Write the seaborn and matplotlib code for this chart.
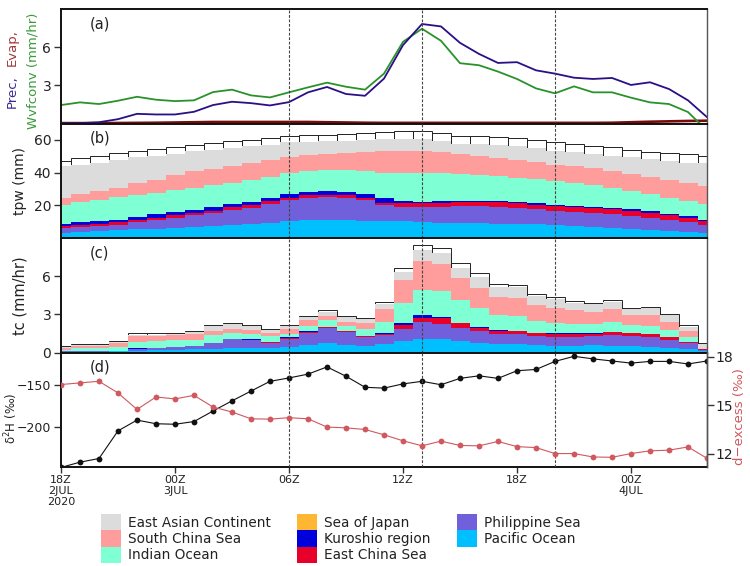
import numpy as np
import pandas as pd
import seaborn as sns
import matplotlib
matplotlib.use("Agg")
import matplotlib.pyplot as plt
from matplotlib.patches import Patch

sns.set_style("ticks")
plt.rcParams['font.family'] = ['DejaVu Sans']
plt.rcParams['mathtext.default'] = 'regular'

hours = np.arange(35)

# panel (a), mm/hr
prec = [0, .03, .1, .34, .76, .71, .71, .92, 1.45, 1.71, 1.6, 1.42, 1.68, 2.45, 2.87, 2.32, 2.18,
        3.53, 6.16, 7.82, 7.63, 6.34, 5.47, 4.76, 4.82, 4.18, 3.92, 3.6, 3.5, 3.58, 3.03, 3.24, 2.71, 1.82, .5]
wvfconv = [1.45, 1.66, 1.53, 1.79, 2.1, 1.87, 1.76, 1.82, 2.47, 2.66, 2.21, 2.05, 2.45, 2.84, 3.21, 2.89, 2.66,
           3.92, 6.42, 7.45, 6.5, 4.74, 4.58, 4.08, 3.5, 2.76, 2.37, 2.92, 2.45, 2.45, 2.03, 1.66, 1.53, .9, -.55]
evap = [.03, .03, .03, .04, .05, .06, .08, .1, .12, .12, .12, .12, .12, .12, .1, .08, .06,
        .05, .05, .05, .05, .05, .05, .05, .05, .05, .05, .05, .05, .06, .1, .14, .17, .2, .22]

# panel (b), upper edge of each layer, mm
tpw_pacific = [3.3, 3.7, 4.1, 4.7, 5.3, 5.7, 6.3, 6.95, 7.6, 8.2, 8.8, 9.4, 10.2, 10.8, 11, 11, 10.6,
               10.4, 10.2, 9.6, 9.4, 9.2, 9, 8.8, 8.6, 8.4, 8, 7.6, 7, 6.3, 5.7, 5.1, 4.5, 3.9, 3.3]
tpw_philippine = [6, 6.6, 7.4, 8.2, 9.6, 10.9, 12.4, 13.8, 15.2, 17, 18.6, 20.8, 23, 24.6, 25, 24.6, 23,
                  20.4, 18.8, 18.8, 19.2, 19.4, 19.6, 19, 18.2, 17.8, 16.8, 16, 15.5, 14.5, 13.7, 12.1, 11, 10, 8]
tpw_ecs = [7.2, 7.9, 8.7, 9.5, 11, 12.4, 13.9, 15.3, 16.8, 18.7, 20.3, 22.5, 24.4, 26, 26.4, 26, 24.3,
           21.7, 21.5, 21.3, 21.5, 21.9, 22.1, 21.9, 21.1, 20.4, 19.8, 19, 18.4, 17.8, 16.8, 15.5, 13.9, 12.5, 10.2]
tpw_kuroshio = [8.8, 9.6, 10.4, 11.2, 13, 14.5, 16, 17.4, 18.8, 20.9, 22.3, 24.5, 26.6, 28.2, 28.6, 28.2, 26.6,
                24.3, 22.5, 22.3, 22.5, 22.7, 22.9, 22.9, 22.1, 21.3, 20.4, 19.6, 19, 18.6, 17.6, 16.6, 14.9, 13.5, 11.2]
tpw_indian = [20.2, 21.9, 23.3, 24.9, 26.2, 27.8, 29.2, 30.5, 32.1, 33.7, 35.4, 37.2, 39.7, 40.9, 41.3, 41.3, 40.9,
              39.5, 39.5, 39.7, 39.5, 39.1, 38.7, 37.6, 36.6, 35.8, 34.6, 33.9, 32.5, 30.7, 28.8, 26.8, 24.5, 22.7, 20.9]
tpw_scs = [24.7, 26.6, 28.6, 30.5, 33.7, 35.6, 38.7, 40.7, 42.3, 44.2, 45.6, 47.4, 49.5, 50.7, 51.3, 51.7, 52.4,
           53.2, 53.4, 53.4, 52.8, 51.1, 49.9, 49.1, 47.6, 46.4, 44.6, 43.8, 42.5, 40.7, 39.3, 37.2, 35.2, 33.5, 31.9]
tpw_eac = [43.8, 44.8, 45.8, 47.9, 49.3, 50.1, 51.5, 53, 54, 55.2, 56, 56.9, 58.5, 58.9, 59.3, 59.5, 59.7,
           60.5, 60.7, 60.5, 59.5, 57.7, 57.5, 56.9, 56, 55.2, 53.4, 52.8, 51.5, 50.3, 49.5, 48.3, 47, 45.8, 46]
tpw_total = [47, 48.9, 50.3, 51.9, 53.2, 54.4, 55.4, 56.9, 58.1, 59.3, 60.1, 61.1, 62.2, 62.8, 63.2, 63.8, 64.2,
             65, 65.4, 65.2, 64.2, 62.6, 62.2, 61.8, 61.1, 59.9, 58.7, 57.3, 56.4, 55.4, 54, 52.6, 51.9, 51.1, 50.1]

# panel (c), upper edge of each layer, mm/hr
tc_pacific = [.05, .06, .07, .09, .15, .18, .2, .24, .3, .35, .35, .32, .42, .6, .72, .6, .5,
              .63, .89, 1.1, 1.08, .92, .76, .68, .63, .58, .55, .55, .58, .55, .53, .47, .37, .26, .08]
tc_philippine = [.08, .08, .08, .12, .3, .33, .4, .5, .72, 1.03, .95, .78, 1.1, 1.55, 1.9, 1.6, 1.2,
                 1.34, 1.87, 2.39, 2.26, 1.95, 1.66, 1.45, 1.42, 1.26, 1.24, 1.24, 1.26, 1.34, 1.26, 1.18, 1, .71, .18]
tc_ecs = [.09, .09, .09, .12, .31, .34, .42, .52, .74, 1.06, .99, .8, 1.14, 1.62, 1.99, 1.67, 1.28,
          1.42, 2.18, 2.74, 2.68, 2.29, 1.92, 1.71, 1.68, 1.5, 1.47, 1.47, 1.47, 1.6, 1.5, 1.42, 1.21, .82, .24]
tc_kuroshio = [.1, .1, .1, .13, .34, .37, .45, .55, .76, 1.1, 1.03, .84, 1.18, 1.66, 2.03, 1.71, 1.32,
               1.55, 2.32, 2.92, 2.79, 2.34, 1.97, 1.74, 1.71, 1.55, 1.5, 1.5, 1.5, 1.63, 1.53, 1.45, 1.24, .84, .26]
tc_indian = [.21, .32, .32, .42, .84, .87, .95, 1, 1.34, 1.55, 1.45, 1.26, 1.47, 2.08, 2.53, 2.08, 1.82,
             2.39, 3.87, 4.92, 4.84, 4.13, 3.47, 2.92, 2.87, 2.47, 2.34, 2.26, 2.26, 2.39, 2.16, 2.08, 1.74, 1.24, .29]
tc_scs = [.34, .5, .5, .71, 1.29, 1.29, 1.34, 1.42, 1.66, 1.84, 1.74, 1.53, 1.82, 2.53, 2.89, 2.39, 2.29,
          3.39, 5.68, 7.16, 6.95, 5.82, 5.05, 4.39, 4.32, 3.74, 3.53, 3.32, 3.21, 3.39, 2.92, 2.92, 2.42, 1.66, .3]
tc_eac = [.42, .58, .58, .84, 1.39, 1.39, 1.42, 1.58, 2.1, 2.26, 2.08, 1.76, 2.05, 2.82, 3.21, 2.82, 2.63,
          3.84, 6.34, 8.05, 7.84, 6.63, 5.9, 5.18, 5.16, 4.45, 4.21, 3.87, 3.84, 3.97, 3.39, 3.47, 2.92, 1.97, .68]
tc_total = [.53, .68, .68, .9, 1.5, 1.5, 1.53, 1.68, 2.18, 2.34, 2.18, 1.87, 2.18, 2.89, 3.34, 2.89, 2.74,
            3.97, 6.68, 8.45, 8.24, 7, 6.21, 5.42, 5.32, 4.63, 4.39, 4.05, 3.92, 4.11, 3.53, 3.61, 3.05, 2.13, .71]

# panel (d)
d2h = [-247.5, -241.3, -237, -204.4, -191.7, -196, -196.6, -193.4, -181, -169, -157.5, -146, -142, -137.5, -129, -140,
       -153, -154, -149, -146, -150, -142.5, -139.5, -142.5, -133.5, -132, -122.5, -116.5, -119.5, -122, -124.5,
       -122.5, -122.5, -125.5, -122]
dexcess = [16.29, 16.39, 16.49, 15.77, 14.75, 15.52, 15.4, 15.62, 14.9, 14.59, 14.17, 14.15, 14.24, 14.17, 13.66, 13.61,
           13.51, 13.18, 12.81, 12.5, 12.79, 12.52, 12.5, 12.77, 12.45, 12.39, 12.02, 12.02, 11.81, 11.79, 12.02,
           12.19, 12.23, 12.43, 11.73]

event_hours = [12, 19, 26]
time_ticks = [0, 6, 12, 18, 24, 30]
time_labels = ['18Z\n2JUL\n2020', '00Z\n3JUL', '06Z', '12Z', '18Z', '00Z\n4JUL']

source_colors = {
    'East Asian Continent': '#DCDCDC',
    'South China Sea': '#FF9C9C',
    'Indian Ocean': '#7FFFD4',
    'Sea of Japan': '#FFB733',
    'Kuroshio region': '#0000DD',
    'East China Sea': '#E8002A',
    'Philippine Sea': '#7060DC',
    'Pacific Ocean': '#00BFFF',
}
stack_names = ['Pacific Ocean', 'Philippine Sea', 'East China Sea', 'Kuroshio region',
               'Indian Ocean', 'South China Sea', 'East Asian Continent']


def draw_stack(ax, tops, total):
    # outline of the total goes first, the layers cover its lower part
    sns.histplot(x=hours, weights=total, discrete=True, element='bars', fill=False,
                 color='#222222', linewidth=0.7, ax=ax)
    thick = np.diff(np.array(tops), axis=0, prepend=0)
    frames = [pd.DataFrame({'hour': hours, 'value': t, 'source': n}) for t, n in zip(thick, stack_names)]
    df = pd.concat(frames)
    sns.histplot(df, x='hour', weights='value', hue='source', hue_order=stack_names[::-1],
                 palette=source_colors, multiple='stack', discrete=True, element='step',
                 alpha=1, linewidth=0, legend=False, ax=ax)


fig, axes = plt.subplots(4, 1, figsize=(7.5, 5.66), dpi=100, sharex=True)
fig.subplots_adjust(left=61 / 750, right=707 / 750, top=1 - 9 / 566, bottom=1 - 467 / 566, hspace=0)
ax_a, ax_b, ax_c, ax_d = axes

sns.lineplot(x=hours, y=evap, color='#7A0A0A', linewidth=1.9, errorbar=None, ax=ax_a)
sns.lineplot(x=hours, y=wvfconv, color='#2A922A', linewidth=1.3, errorbar=None, ax=ax_a)
sns.lineplot(x=hours, y=prec, color='#2A0F85', linewidth=1.3, errorbar=None, ax=ax_a)
ax_a.set_ylim(0, 9)
ax_a.set_yticks([3, 6])

draw_stack(ax_b, [tpw_pacific, tpw_philippine, tpw_ecs, tpw_kuroshio, tpw_indian, tpw_scs, tpw_eac], tpw_total)
ax_b.set_ylim(0, 70)
ax_b.set_yticks([20, 40, 60])

draw_stack(ax_c, [tc_pacific, tc_philippine, tc_ecs, tc_kuroshio, tc_indian, tc_scs, tc_eac], tc_total)
ax_c.set_ylim(0, 9)
ax_c.set_yticks([0, 3, 6])

sns.lineplot(x=hours, y=d2h, color='#111111', linewidth=0.8, marker='o', markersize=4.2,
             markeredgewidth=0, errorbar=None, ax=ax_d)
ax_d.set_ylim(-247, -112)
ax_d.set_yticks([-150, -200])
ax_d.set_yticklabels(['\u2212150', '\u2212200'])

ax_r = ax_d.twinx()
sns.lineplot(x=hours, y=dexcess, color='#D0585F', linewidth=0.8, marker='o', markersize=4.2,
             markeredgewidth=0, errorbar=None, ax=ax_r)
ax_r.set_ylim(11.19, 18.27)
ax_r.set_yticks([12, 15, 18])
ax_r.set_ylabel('')
ax_r.tick_params(axis='y', length=5, width=1, labelsize=10, pad=1, color='#333333', labelcolor='#222222')
for side in ['top', 'left', 'bottom']:
    ax_r.spines[side].set_visible(False)
ax_r.spines['right'].set_linewidth(1.0)
ax_r.spines['right'].set_color('#555555')

for ax, tag in zip(axes, ['(a)', '(b)', '(c)', '(d)']):
    ax.set_xlim(0, 34)
    ax.set_xlabel('')
    ax.set_ylabel('')
    ax.text(0.045, 0.87, tag, transform=ax.transAxes, fontsize=10.5, va='center', color='#222222')
    for h in event_hours:
        ax.axvline(h, color='#444444', linewidth=0.8, linestyle=(0, (2.5, 1.5)), zorder=5)
    for side in ['top', 'left', 'bottom']:
        ax.spines[side].set_linewidth(1.4)
        ax.spines[side].set_color('#111111')
    ax.spines['right'].set_visible(True)
    ax.spines['right'].set_linewidth(1.0)
    ax.spines['right'].set_color('#555555')
    ax.tick_params(axis='y', length=5, width=1, labelsize=10, pad=2, color='#333333', labelcolor='#222222')
    ax.tick_params(axis='x', length=0)

ax_d.tick_params(axis='y', labelsize=9)
ax_d.set_xticks(time_ticks)
ax_d.set_xticklabels(time_labels, linespacing=1.1)
ax_d.tick_params(axis='x', length=4, width=1, labelsize=8, pad=2, color='#333333', labelcolor='#222222',
                 bottom=True, labelbottom=True)

# axis titles sit at fixed spots, the first one has three colours
def side_label(x, y, text, color, size=9.5):
    fig.text(x / 750, 1 - y / 566, text, rotation=90, color=color, fontsize=size, ha='center', va='center')

side_label(12, 92, 'Prec,', '#3A2A95')
side_label(12, 48, 'Evap,', '#A03A3A')
side_label(33, 71, 'Wvfconv (mm/hr)', '#3A9A3A')
side_label(20, 181, 'tpw (mm)', '#222222', 10)
side_label(20, 296, 'tc (mm/hr)', '#222222', 10.5)
side_label(11, 418, '\u03b4$^{2}$H (\u2030)', '#222222', 8.5)
side_label(740, 417, 'd\u2212excess (\u2030)', '#D0585F', 9.5)

legend_names = list(source_colors)
handles = [Patch(facecolor=source_colors[n], edgecolor='none') for n in legend_names]
fig.legend(handles, legend_names, ncol=3, frameon=False, fontsize=9.8, loc='lower left',
           bbox_to_anchor=(101 / 750, 1 - 563 / 566), borderpad=0, borderaxespad=0, labelspacing=0,
           handlelength=1.47, handleheight=1.47, handletextpad=0.5, columnspacing=1.95,
           labelcolor='#222222')

fig.savefig('out.png', dpi=100)
